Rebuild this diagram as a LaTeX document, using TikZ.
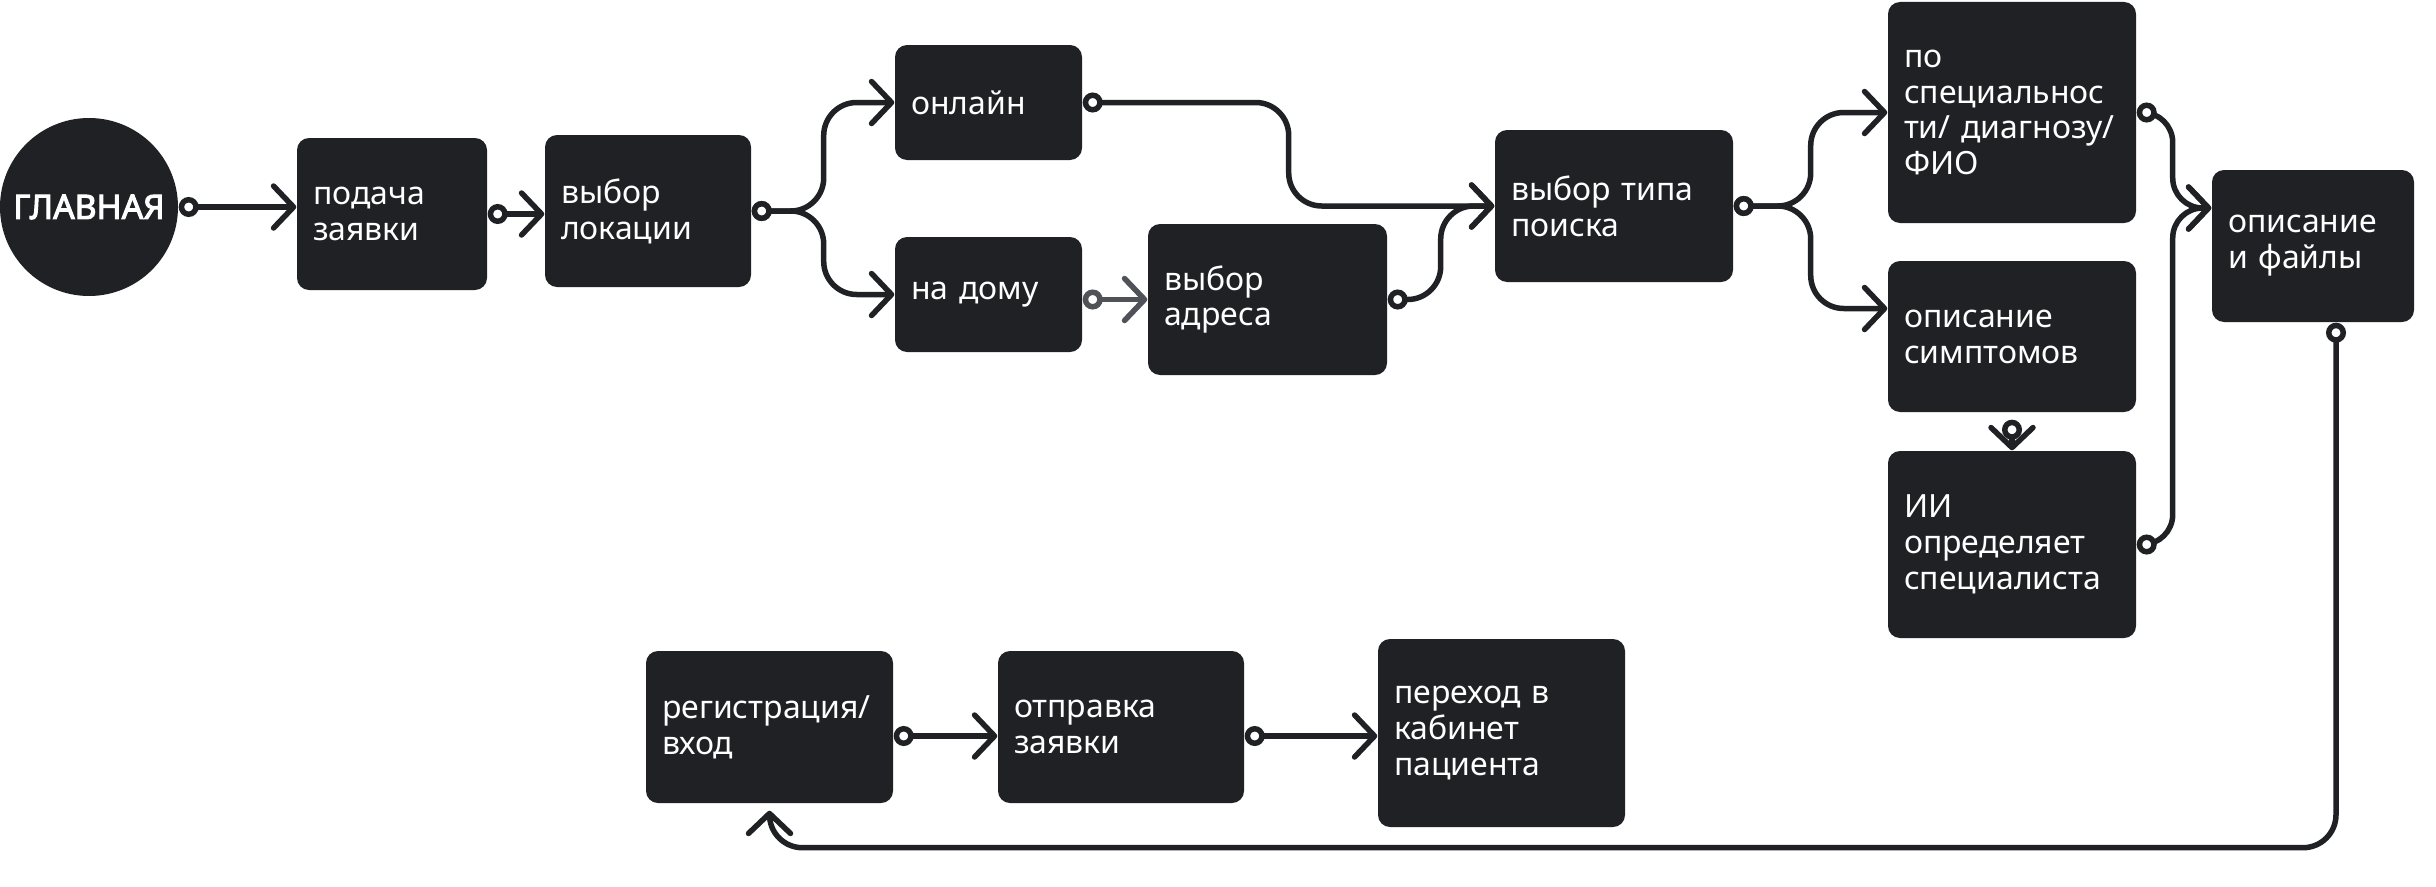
\documentclass[tikz,border=0pt]{standalone}
\usepackage{fontspec}
\setmainfont{Noto Sans}
\newfontfamily\heavyfont{Noto Sans}[FakeBold=3]
\usetikzlibrary{arrows.meta, calc}
\definecolor{ink}{HTML}{1F2125}
\definecolor{ash}{HTML}{4F5257}

\begin{document}
\begin{tikzpicture}[
  >={Straight Barb[length=2mm, width=4.2mm, round]},
  box/.style={fill=ink, text=white, rounded corners=1.2mm, inner xsep=1.6mm,
    inner ysep=0pt, align=left, font=\fontsize{9.1}{10.2}\selectfont},
  flow/.style={draw=ink, line width=0.55mm, rounded corners=3.3mm,
    {Circle[length=2mm, fill=white]}->},
]

% Canvas
\useasboundingbox (0,0) rectangle (24.36,-8.86);

% --- Upper row ---
\node[circle, fill=ink, text=white, minimum size=1.78cm, inner sep=0pt,
  font=\heavyfont\fontsize{9.6}{10.2}\selectfont] (main) at (0.89,-2.07) {ГЛАВНАЯ};

\node[box, text width=1.58cm, minimum height=1.52cm] (submit) at (3.92,-2.14)
  {подача\\заявки};
\node[box, text width=1.74cm, minimum height=1.52cm] (loc) at (6.48,-2.11)
  {выбор\\локации};

\node[box, text width=1.55cm, minimum height=1.15cm] (online) at (9.885,-1.025)
  {онлайн};
\node[box, text width=1.55cm, minimum height=1.15cm] (home) at (9.885,-2.945)
  {на~дому};
\node[box, text width=2.07cm, minimum height=1.51cm] (addr) at (12.675,-2.995)
  {выбор\\адреса};

\node[box, text width=2.06cm, minimum height=1.52cm] (search) at (16.14,-2.06)
  {выбор~типа\\поиска};

\node[box, text width=2.16cm, minimum height=2.21cm] (bysp) at (20.12,-1.125)
  {по\\специальнос\\ти/~диагнозу/\\ФИО};
\node[box, text width=2.16cm, minimum height=1.51cm] (symp) at (20.12,-3.365)
  {описание\\симптомов};
\node[box, text width=2.16cm, minimum height=1.87cm] (ai) at (20.12,-5.445)
  {ИИ\\определяет\\специалиста};

\node[box, text width=1.70cm, minimum height=1.52cm] (files) at (23.13,-2.46)
  {описание\\и~файлы};

% --- Lower row ---
\node[box, text width=2.15cm, minimum height=1.52cm] (reg) at (7.695,-7.27)
  {регистрация/\\вход};
\node[box, text width=2.14cm, minimum height=1.52cm] (send) at (11.21,-7.27)
  {отправка\\заявки};
\node[box, text width=2.15cm, minimum height=1.88cm] (cab) at (15.015,-7.33)
  {переход~в\\кабинет\\пациента};

% --- Connectors ---
\draw[flow] (main.east) -- (main.east -| submit.west);
\draw[flow] (submit.east) -- (submit.east -| loc.west);

% location split
\draw[flow] (loc.east) -- ++(0.72,0) |- (online.west);
\draw[flow] (loc.east) -- ++(0.72,0) |- (home.west);
\draw[flow, draw=ash] (home.east |- addr.west) -- (addr.west);

% join into search type
\draw[flow] (online.east) -- ++(2.06,0) |- (search.west);
\draw[flow] (addr.east) -- ++(0.53,0) |- (search.west);

% search split
\draw[flow] (search.east) -- ++(0.77,0) |- (bysp.west);
\draw[flow] (search.east) -- ++(0.77,0) |- ([yshift=2.8mm]symp.west);
\draw[flow, shorten <=0.7mm] (symp.south) -- (ai.north);

% into description and files
\draw[flow, rounded corners=3mm] (bysp.east) -- ++(0.36,0) |- ([yshift=3.8mm]files.west);
\draw[flow, rounded corners=3mm] (ai.east) -- ++(0.36,0) |- ([yshift=3.8mm]files.west);

% back to registration
\draw[flow, shorten >=0.7mm] ([xshift=2.3mm]files.south) |- ([yshift=-4.4mm]reg.south) -- (reg.south);

% lower row
\draw[flow] ([yshift=-0.9mm]reg.east) -- ([yshift=-0.9mm]send.west);
\draw[flow] ([yshift=-0.9mm]send.east) -- ([yshift=-0.9mm]send.east -| cab.west);

\end{tikzpicture}
\end{document}
